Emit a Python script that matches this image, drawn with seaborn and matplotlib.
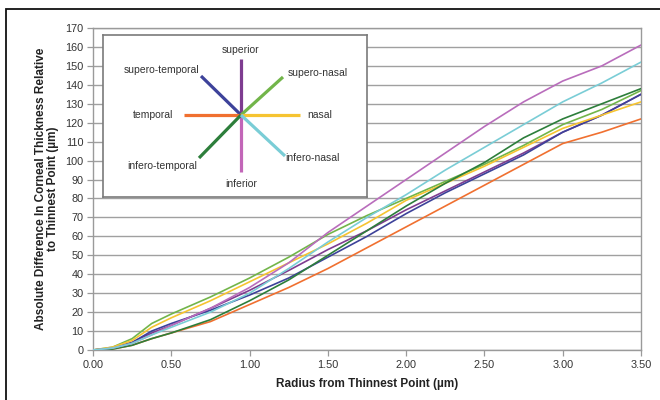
import numpy as np
import pandas as pd
import matplotlib
matplotlib.use("Agg")
import matplotlib.pyplot as plt
from matplotlib.patches import Rectangle
import seaborn as sns

# Radius from thinnest point (µm)
radius = [0.0, 0.125, 0.25, 0.375, 0.5, 0.75, 1.0, 1.25, 1.5, 1.75, 2.0, 2.25, 2.5, 2.75, 3.0, 3.25, 3.5]

# Absolute difference in corneal thickness (µm) per meridian
superior        = [0, 1, 4, 9, 13, 22, 31.5, 42, 53, 63, 74, 84, 94, 104, 115, 124, 135]
supero_temporal = [0, 1, 4, 10, 14, 21, 29, 38, 49, 60, 72, 83, 93, 103, 115, 124, 135]
supero_nasal    = [0, 1.5, 6, 14, 19, 28, 38, 49, 61, 71, 80, 89, 98, 108, 119, 127, 137]
temporal        = [0, 0.5, 2.5, 6, 9, 15, 24, 33, 43, 54, 65, 76, 87, 98, 109, 115, 122]
nasal           = [0, 1.5, 5, 12, 17, 26, 36, 46, 56, 67, 79, 88, 97, 107, 117, 124, 131]
infero_temporal = [0, 0.5, 2.5, 6, 9, 16, 26, 37, 50, 63, 76, 88, 99, 112, 122, 130, 138]
inferior        = [0, 1, 3.5, 8, 13, 22, 33, 46, 62, 76, 90, 104, 118, 131, 142, 150, 161]
infero_nasal    = [0, 1, 3.5, 8, 12, 20, 30, 43, 57, 70, 82, 95, 107, 119, 131, 141, 152]

series = {
    "superior": superior,
    "supero-temporal": supero_temporal,
    "supero-nasal": supero_nasal,
    "temporal": temporal,
    "nasal": nasal,
    "infero-temporal": infero_temporal,
    "inferior": inferior,
    "infero-nasal": infero_nasal,
}

colors = {
    "superior": "#7E3C90",
    "supero-temporal": "#3D429A",
    "supero-nasal": "#72B54A",
    "temporal": "#F07030",
    "nasal": "#F6C431",
    "infero-temporal": "#2D7E3B",
    "inferior": "#B96DBC",
    "infero-nasal": "#7ACDD6",
}

y_ticks = list(range(0, 171, 10))
x_ticks = [0.0, 0.5, 1.0, 1.5, 2.0, 2.5, 3.0, 3.5]

df = pd.DataFrame(
    [(r, v, name) for name, vals in series.items() for r, v in zip(radius, vals)],
    columns=["radius", "diff", "meridian"],
)

sns.set_theme(style="white")
plt.rcParams["font.family"] = ["Liberation Sans", "DejaVu Sans"]

fig = plt.figure(figsize=(6.6, 4.0), dpi=100)
ax = fig.add_axes([93 / 660, 1 - 350 / 400, (641 - 93) / 660, (350 - 28) / 400])

sns.lineplot(data=df, x="radius", y="diff", hue="meridian", palette=colors,
             hue_order=list(series.keys()), legend=False, linewidth=1.2, ax=ax,
             zorder=3)

ax.set_xlim(0, 3.5)
ax.set_ylim(0, 170)
ax.set_xticks(x_ticks)
ax.set_xticklabels([f"{t:.2f}" for t in x_ticks])
ax.set_yticks(y_ticks)
ax.yaxis.grid(True, color="#a0a0a0", linewidth=1.0)
ax.xaxis.grid(False)
for s in ax.spines.values():
    s.set_color("#9a9a9a")
    s.set_linewidth(1.0)
ax.tick_params(axis="both", which="both", direction="out", length=4, width=0.9,
               color="#9a9a9a", labelsize=7.8, labelcolor="#333333", pad=3,
               left=True, bottom=True)
ax.set_xlabel("Radius from Thinnest Point (µm)", fontsize=8.5, fontweight="bold",
              color="#222222", labelpad=6)
ax.set_ylabel("Absolute Difference In Corneal Thickness Relative\nto Thinnest Point (µm)",
              fontsize=8.5, fontweight="bold", color="#222222", labelpad=4,
              linespacing=1.1)

# Compass key drawn in an inset panel (pixel coordinates of the panel)
kw, kh = 264, 162
key = fig.add_axes([103 / 660, 1 - 197 / 400, kw / 660, kh / 400])
key.set_xlim(0, kw)
key.set_ylim(kh, 0)
key.set_xticks([])
key.set_yticks([])
key.set_facecolor("white")
for s in key.spines.values():
    s.set_color("#7a7a7a")
    s.set_linewidth(1.2)
key.set_zorder(5)

cx, cy = 138, 80
arms = {
    "superior": (0, -56),
    "supero-temporal": (-40, -39),
    "supero-nasal": (42, -38),
    "temporal": (-57, 0),
    "nasal": (59, 0),
    "inferior": (0, 57),
    "infero-temporal": (-42, 43),
    "infero-nasal": (44, 41),
}
key_colors = dict(colors)
key_colors["inferior"] = "#C266B8"
for name, (dx, dy) in arms.items():
    key.plot([cx, cx + dx], [cy, cy + dy], color=key_colors[name], linewidth=2.3,
             solid_capstyle="butt")

labels = {
    "superior": (138, 15, "center"),
    "supero-temporal": (96, 35, "right"),
    "supero-nasal": (185, 38, "left"),
    "temporal": (70, 80, "right"),
    "nasal": (204, 80, "left"),
    "infero-temporal": (94, 131, "right"),
    "inferior": (138, 149, "center"),
    "infero-nasal": (182, 123, "left"),
}
for name, (tx, ty, ha) in labels.items():
    key.text(tx, ty, name, ha=ha, va="center", fontsize=7.5, color="#333333")

# Outer frame around the figure
fig.patches.append(Rectangle((6 / 660, -0.05), 1.0, 1 - 9 / 400 + 0.05,
                             transform=fig.transFigure, fill=False,
                             edgecolor="#111111", linewidth=1.3))

fig.savefig("out.png", dpi=100, facecolor="white")
